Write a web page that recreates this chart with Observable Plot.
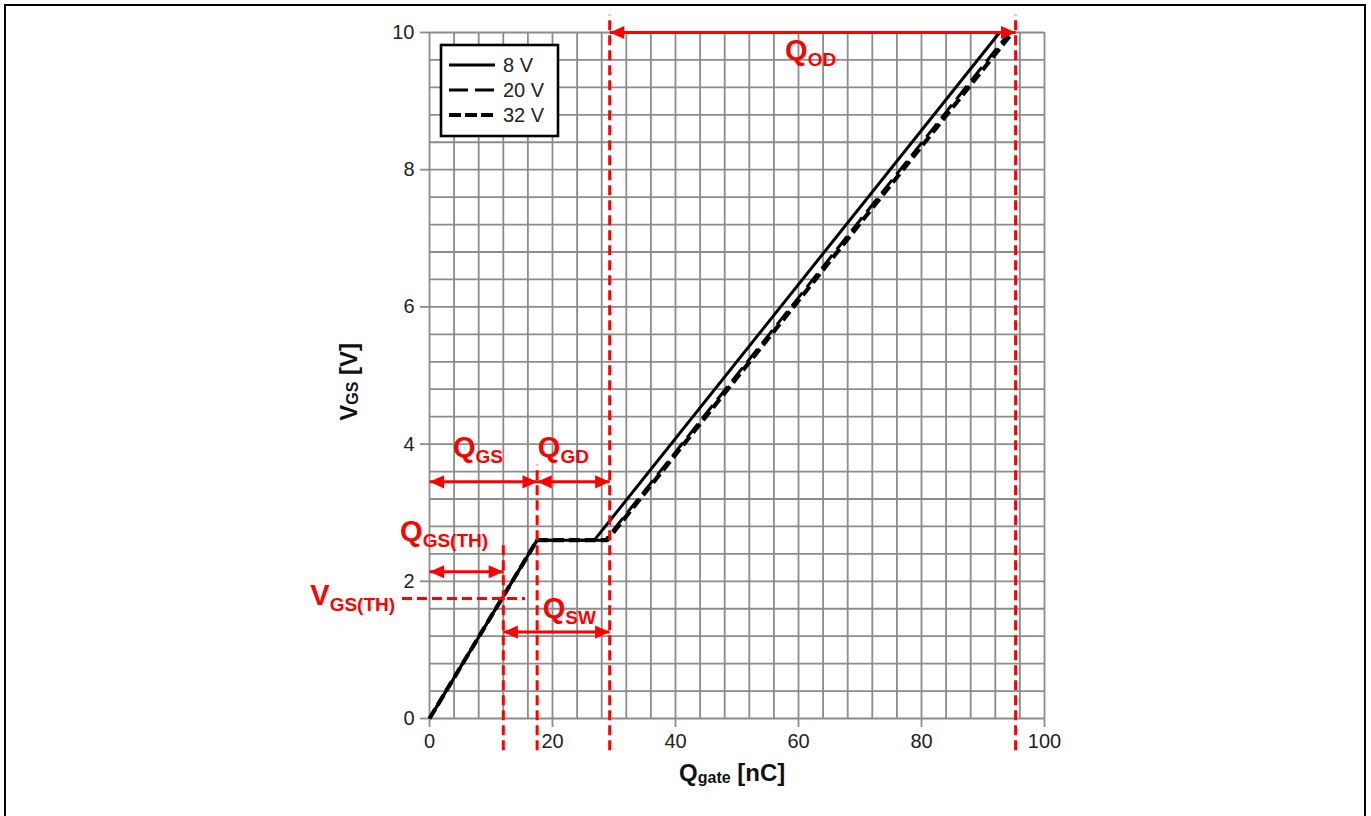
<!DOCTYPE html>
<html>
<head>
<meta charset="utf-8">
<script src="https://cdn.jsdelivr.net/npm/d3@7"></script>
<script src="https://cdn.jsdelivr.net/npm/@observablehq/plot@0.6"></script>
<style>
html, body { margin: 0; padding: 0; background: #fff; overflow: hidden; }
#chart { position: absolute; left: 0; top: 0; }
#frame { position: absolute; left: 4px; top: 4px; width: 1358px; height: 900px; border: 2px solid #000; border-bottom: none; pointer-events: none; }
</style>
</head>
<body>
<div id="chart"></div>
<div id="frame"></div>
<script>
// ---- axes / grid ----
const qTicks = [0, 20, 40, 60, 80, 100];
const vTicks = [0, 2, 4, 6, 8, 10];
const qGrid = [0,4,8,12,16,20,24,28,32,36,40,44,48,52,56,60,64,68,72,76,80,84,88,92,96,100];
const vGrid = [0,0.4,0.8,1.2,1.6,2,2.4,2.8,3.2,3.6,4,4.4,4.8,5.2,5.6,6,6.4,6.8,7.2,7.6,8,8.4,8.8,9.2,9.6,10];

// ---- series (gate charge curves) ----
const seriesNames = ["8 V", "20 V", "32 V"];
const q8  = [0, 17.5, 26.8, 92.7];
const v8  = [0, 2.6, 2.6, 10];
const q20 = [0, 17.5, 28.6, 94.3];
const v20 = [0, 2.6, 2.6, 10];
const q32 = [0, 17.5, 28.9, 94.8];
const v32 = [0, 2.6, 2.6, 10];

// ---- red annotations ----
const markerQ   = [12.0, 17.5, 29.3, 95.3];
const markerTop = [2.57, 3.69, 10.25, 10.25];
const markerBottom = -0.47;
const vthValue = 1.75;
const vthFrom = -4.4, vthTo = 15.6;

const arrowFrom = [0, 17.5, 0, 12.0, 29.3];
const arrowTo   = [17.5, 29.3, 12.0, 29.3, 95.3];
const arrowV    = [3.45, 3.45, 2.14, 1.26, 10.0];

const labelMain = ["Q", "Q", "Q", "V", "Q", "Q"];
const labelSub  = ["GS", "GD", "GS(TH)", "GS(TH)", "SW", "OD"];
const labelQ    = [3.9, 17.7, -4.7, -19.3, 18.5, 57.9];
const labelV    = [3.80, 3.80, 2.58, 1.65, 1.46, 9.59];

// ---- build tables ----
const curves = [
  {name: seriesNames[0], pts: q8.map((q, i) => ({q, v: v8[i]}))},
  {name: seriesNames[1], pts: q20.map((q, i) => ({q, v: v20[i]}))},
  {name: seriesNames[2], pts: q32.map((q, i) => ({q, v: v32[i]}))}
];
const curveStyle = {
  "8 V":  {strokeWidth: 3, dash: null},
  "20 V": {strokeWidth: 3, dash: "17,7"},
  "32 V": {strokeWidth: 4.2, dash: "11,5"}
};
const markers = markerQ.map((q, i) => ({q, top: markerTop[i]}));
const arrows = arrowFrom.map((f, i) => ({from: f, to: arrowTo[i], v: arrowV[i]}));
const headsRight = arrows.map(a => ({q: a.to, v: a.v}));
const headsLeft  = arrows.map(a => ({q: a.from, v: a.v}));

const RED = "#ff0000";
const headRight = { draw(ctx, size) { const L = Math.sqrt(size / Math.PI) * 2; const w = L * 0.45;
  ctx.moveTo(0, 0); ctx.lineTo(-L, -w); ctx.lineTo(-L, w); ctx.closePath(); } };
const headLeft = { draw(ctx, size) { const L = Math.sqrt(size / Math.PI) * 2; const w = L * 0.45;
  ctx.moveTo(0, 0); ctx.lineTo(L, -w); ctx.lineTo(L, w); ctx.closePath(); } };

const FONT = "'Liberation Sans', Arial, Helvetica, sans-serif";

const plot = Plot.plot({
  width: 1371,
  height: 816,
  marginLeft: 429,
  marginRight: 327,
  marginTop: 32,
  marginBottom: 98,
  x: {domain: [0, 100]},
  y: {domain: [0, 10]},
  style: {fontFamily: FONT, fontSize: "20px", background: "transparent", color: "#222"},
  marks: [
    Plot.gridX(qGrid, {stroke: "#8c8c8c", strokeOpacity: 1, strokeWidth: 1.8}),
    Plot.gridY(vGrid, {stroke: "#8c8c8c", strokeOpacity: 1, strokeWidth: 1.8}),
    Plot.axisX(qTicks, {tickSize: 9, tickPadding: 6, stroke: "#8c8c8c", strokeWidth: 1.8, fill: "#222", fontSize: 20, label: null, tickFormat: d3.format("d")}),
    Plot.axisY(vTicks, {tickSize: 9, tickPadding: 6, stroke: "#8c8c8c", strokeWidth: 1.8, fill: "#222", fontSize: 20, label: null, tickFormat: d3.format("d")}),
    ...curves.map(c => Plot.line(c.pts, {
      x: "q", y: "v", stroke: "#000",
      strokeWidth: curveStyle[c.name].strokeWidth,
      strokeDasharray: curveStyle[c.name].dash,
      strokeLinejoin: "miter", strokeLinecap: "butt"
    })),
    Plot.ruleX(markers, {x: "q", y1: markerBottom, y2: "top", stroke: RED, strokeWidth: 3, strokeDasharray: "10,5"}),
    Plot.ruleY([vthValue], {x1: vthFrom, x2: vthTo, stroke: RED, strokeWidth: 3, strokeDasharray: "10,5"}),
    Plot.link(arrows, {x1: "from", x2: "to", y1: "v", y2: "v", stroke: RED, strokeWidth: 3}),
    Plot.dot(headsRight, {x: "q", y: "v", symbol: headRight, r: 7.3, fill: RED, stroke: "none"}),
    Plot.dot(headsLeft,  {x: "q", y: "v", symbol: headLeft,  r: 7.3, fill: RED, stroke: "none"})
  ]
});

document.getElementById("chart").appendChild(plot);

// ---- labels with subscripts (positioned through Plot's scales) ----
const xs = plot.scale("x"), ys = plot.scale("y");
const svg = d3.select(plot);

const labels = labelMain.map((m, i) => ({main: m, sub: labelSub[i], q: labelQ[i], v: labelV[i]}));
const lg = svg.append("g").attr("font-family", FONT).attr("font-weight", "bold").attr("fill", RED)
  .attr("text-anchor", "start");
labels.forEach(d => {
  const t = lg.append("text").attr("x", xs.apply(d.q)).attr("y", ys.apply(d.v)).attr("font-size", 29)
    .attr("text-anchor", "start");
  t.append("tspan").text(d.main);
  t.append("tspan").attr("font-size", 19).attr("dy", 6).text(d.sub);
});

// axis titles
const xt = svg.append("text").attr("font-family", FONT).attr("font-weight", "bold").attr("fill", "#111")
  .attr("text-anchor", "middle").attr("x", xs.apply(49.3)).attr("y", 781).attr("font-size", 24);
xt.append("tspan").text("Q");
xt.append("tspan").attr("font-size", 16).attr("dy", 2).text("gate");
xt.append("tspan").attr("dy", -2).text(" [nC]");

const yt = svg.append("text").attr("font-family", FONT).attr("font-weight", "bold").attr("fill", "#111")
  .attr("text-anchor", "middle").attr("font-size", 24)
  .attr("transform", `translate(357,${ys.apply(4.9)}) rotate(-90)`);
yt.append("tspan").text("V");
yt.append("tspan").attr("font-size", 16).attr("dy", 1).text("GS");
yt.append("tspan").attr("dy", -1).text(" [V]");

// legend
const fx0 = xs.range[0], fy0 = ys.range[1];
const leg = svg.append("g").attr("transform", `translate(${fx0},${fy0})`).attr("text-anchor", "start");
leg.append("rect").attr("x", 12).attr("y", 13).attr("width", 117).attr("height", 91)
  .attr("fill", "#fff").attr("stroke", "#000").attr("stroke-width", 2.6);
seriesNames.forEach((name, i) => {
  const yy = 33 + i * 25;
  leg.append("line").attr("x1", 20).attr("x2", 66).attr("y1", yy).attr("y2", yy)
    .attr("stroke", "#000").attr("stroke-width", curveStyle[name].strokeWidth)
    .attr("stroke-dasharray", i === 1 ? "19,7" : (i === 2 ? "12,4" : null));
  leg.append("text").attr("x", 74).attr("y", yy).attr("dy", "0.35em").attr("text-anchor", "start")
    .attr("font-family", FONT).attr("font-size", 20).attr("fill", "#222").text(name);
});
</script>
</body>
</html>
